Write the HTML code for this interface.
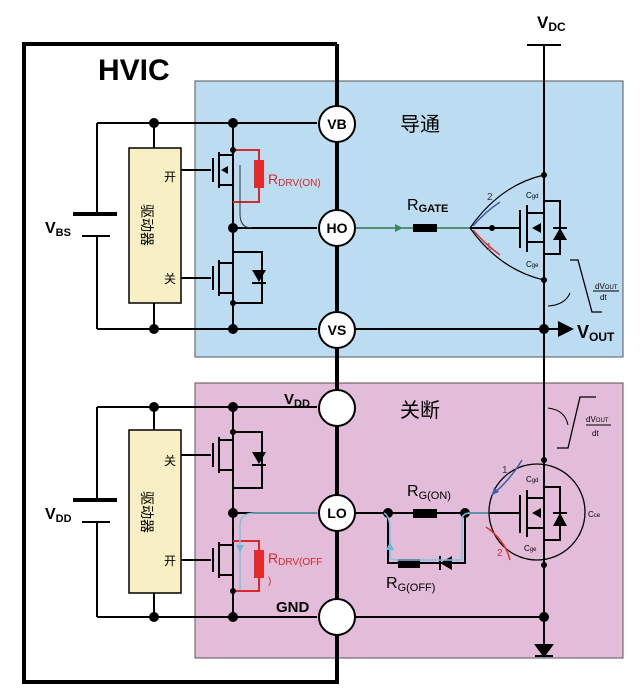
<!DOCTYPE html>
<html><head><meta charset="utf-8"><style>
html,body{margin:0;padding:0;background:#fff}
svg{display:block}
text{font-family:"Liberation Sans","Noto Sans CJK SC",sans-serif}
</style></head><body>
<svg width="642" height="693" viewBox="0 0 642 693" xmlns="http://www.w3.org/2000/svg">
<defs>
<marker id="ab" markerWidth="8" markerHeight="8" refX="6" refY="4" orient="auto"><path d="M0,0 L8,4 L0,8 z" fill="#000"/></marker>
</defs>
<rect width="642" height="693" fill="#fff"/>
<rect x="195" y="81" width="428" height="276" fill="#bcdcf2" stroke="#555" stroke-width="1"/>
<rect x="195" y="383" width="428" height="275" fill="#e3bcd9" stroke="#555" stroke-width="1"/>
<path d="M337,44 L24,44 L24,682 L337,682" fill="none" stroke="#000" stroke-width="4"/>
<line x1="337" y1="44" x2="337" y2="684" stroke="#000" stroke-width="4"/>
<text x="98" y="80" font-size="30" font-weight="bold">HVIC</text>

<g stroke="#000" stroke-width="2" fill="none">
<path d="M97,123 L317,123 M97,329 L317,329 M97,123 L97,214 M97,236 L97,329"/>
<path d="M154,123 L154,148 M154,303 L154,329"/>
<path d="M97,407 L317,407 M97,617 L317,617 M97,407 L97,500 M97,522 L97,617"/>
<path d="M154,407 L154,430 M154,593 L154,617"/>
<path d="M233,123 L233,329"/>
<path d="M233,228 L317,228"/>
<path d="M233,407 L233,617"/>
<path d="M233,513 L317,513"/>
<path d="M181,170 L211,170 M181,278 L211,278 M181,455 L211,455 M181,560 L211,560"/>
</g>
<g stroke="#000" stroke-width="4"><path d="M73,214 L117,214 M73,500 L117,500"/></g>
<g stroke="#000" stroke-width="2"><path d="M82,236 L110,236 M82,522 L110,522"/></g>
<text x="45" y="233" font-size="16" font-weight="bold">V<tspan font-size="11" dy="3">BS</tspan></text>
<text x="45" y="519" font-size="16" font-weight="bold">V<tspan font-size="11" dy="3">DD</tspan></text>

<rect x="129" y="148" width="52" height="155" fill="#f8efc4" stroke="#000" stroke-width="1.5"/>
<rect x="129" y="430" width="52" height="163" fill="#f8efc4" stroke="#000" stroke-width="1.5"/>
<g font-size="12" fill="#000">
<text x="164" y="181">开</text><text x="164" y="283">关</text>
<text x="164" y="465">关</text><text x="164" y="565">开</text>
<text x="147" y="225" font-size="14" text-anchor="middle" dominant-baseline="central" transform="rotate(90 147 225)">驱动器</text>
<text x="147" y="512" font-size="14" text-anchor="middle" dominant-baseline="central" transform="rotate(90 147 512)">驱动器</text>
</g>

<g stroke="#000" stroke-width="2" fill="none">
<path d="M213,158 L213,182 M219,152 L219,188 M219,155 L233,155 M219,185 L233,185"/>
<path d="M213,266 L213,290 M219,260 L219,296 M219,263 L233,263 M219,293 L233,293 M233,252 L262,252 L262,303 L233,303"/>
<path d="M213,443 L213,467 M219,437 L219,473 M219,440 L233,440 M219,470 L233,470 M233,432 L262,432 L262,488 L233,488"/>
<path d="M213,548 L213,572 M219,542 L219,578 M219,545 L233,545 M219,575 L233,575"/>
</g>
<g fill="#000">
<path d="M252,270 L266,270 L259,282 z"/><path d="M252,452 L266,452 L259,464 z"/>
<path d="M221,170 l7,-4 v8 z"/>
</g>
<g stroke="#000" stroke-width="2"><path d="M252,283 L266,283 M252,465 L266,465"/></g>

<g stroke="#d42a2a" stroke-width="2" fill="none">
<path d="M233,150 L259,150 L259,202 L233,202"/>
<path d="M233,541 L259,541 L259,591 L233,591"/>
</g>
<rect x="254" y="160" width="10" height="28" fill="#e52a2a"/>
<rect x="254" y="550" width="10" height="28" fill="#e52a2a"/>
<text x="268" y="184" font-size="14" fill="#d42a2a">R<tspan font-size="10" dy="2">DRV(ON)</tspan></text>
<text x="268" y="563" font-size="14" fill="#d42a2a">R<tspan font-size="10" dy="2">DRV(OFF</tspan></text>
<text x="268" y="584" font-size="10" fill="#d42a2a">)</text>
<path d="M240,165 L240,214 Q240,228 252,228" stroke="#333" stroke-width="1" fill="none"/>

<g fill="#000">
<circle cx="154" cy="123" r="5"/><circle cx="233" cy="123" r="5"/><circle cx="154" cy="329" r="5"/><circle cx="233" cy="329" r="5"/>
<circle cx="233" cy="228" r="5"/><circle cx="233" cy="150" r="3"/><circle cx="233" cy="303" r="3"/>
<circle cx="154" cy="407" r="5"/><circle cx="233" cy="407" r="5"/><circle cx="154" cy="617" r="5"/><circle cx="233" cy="617" r="5"/>
<circle cx="233" cy="513" r="5"/><circle cx="233" cy="432" r="3"/><circle cx="233" cy="591" r="3"/>
</g>

<g stroke="#000" stroke-width="2" fill="none">
<path d="M527,45 L561,45 M544,45 L544,650"/>
<path d="M355,329 L570,329" marker-end="url(#ab)"/>
<path d="M355,617 L544,617"/>
</g>
<text x="537" y="28" font-size="17" font-weight="bold">V<tspan font-size="12" dy="3">DC</tspan></text>
<text x="577" y="338" font-size="18" font-weight="bold">V<tspan font-size="12" dy="3">OUT</tspan></text>
<circle cx="544" cy="329" r="5"/><circle cx="544" cy="617" r="5"/>
<path d="M536,645 L552,645 L544,656 z M535,656 L553,656" stroke="#000" stroke-width="2" fill="#000"/>

<path d="M355,228 L470,228" stroke="#2e7a4a" stroke-width="1.5"/>
<path d="M395,224 l8,4 l-8,4 z" fill="#3a8a5a"/>
<rect x="413" y="224" width="24" height="8" fill="#000"/>
<text x="407" y="210" font-size="16">R<tspan font-size="11" dy="2" font-weight="bold">GATE</tspan></text>
<g stroke="#000" stroke-width="2" fill="none">
<path d="M470,228 L520,228 M520,210 L520,248 M527,205 L527,252 M527,213 L544,213 M527,242 L544,242 M544,201 L560,201 L560,254 L544,254"/>
<path d="M470,228 Q500,185 544,175 M470,228 Q500,270 544,280" stroke-width="1.2"/>
</g>
<path d="M532,228 l9,-5 v10 z" fill="#000"/>
<path d="M553,240 L567,240 L560,228 z" fill="#000"/><path d="M553,228 L567,228" stroke="#000" stroke-width="2"/>
<circle cx="544" cy="175" r="3"/><circle cx="544" cy="280" r="3"/><circle cx="492" cy="228" r="3"/>
<path d="M473,226 Q485,212 500,202" stroke="#3b5fb0" stroke-width="1.5" fill="none"/>
<path d="M473,230 Q485,244 500,255" stroke="#d33" stroke-width="1.5" fill="none"/>
<text x="487" y="200" font-size="10" fill="#334">2</text><text x="486" y="250" font-size="10" fill="#c33">1</text>
<text x="526" y="198" font-size="8">C<tspan font-size="6">gd</tspan></text>
<text x="526" y="267" font-size="8">C<tspan font-size="6">ge</tspan></text>
<path d="M570,260 L578,260 L592,312 L602,312" stroke="#000" stroke-width="1.3" fill="none"/>
<text x="595" y="289" font-size="8">dV<tspan font-size="6">OUT</tspan></text><line x1="593" y1="291" x2="619" y2="291" stroke="#000"/><text x="600" y="300" font-size="8">dt</text>
<path d="M570,293 Q565,305 548,306" stroke="#000" stroke-width="1" fill="none"/>

<path d="M355,513 L490,513" stroke="#000" stroke-width="2"/>
<rect x="413" y="509" width="24" height="9" fill="#000"/>
<circle cx="388" cy="513" r="5"/><circle cx="465" cy="513" r="5"/>
<path d="M388,513 L388,563 L465,563 L465,513" stroke="#000" stroke-width="2" fill="none"/>
<rect x="398" y="559" width="22" height="9" fill="#000"/>
<path d="M440,563 L452,556 L452,570 z" fill="#000"/><path d="M440,556 L440,570" stroke="#000" stroke-width="2"/>
<path d="M240,525 Q240,513 255,513 L355,513 M384,513 Q390,516 390,530 L390,558 Q392,560 400,560 L462,560 L462,520 Q462,513 470,513 L490,513" stroke="#7cc4dd" stroke-width="1.5" fill="none"/>
<path d="M240,525 L240,590" stroke="#7cc4dd" stroke-width="1.5"/>
<path d="M236,545 l4,8 l4,-8 z M386,550 l4,-8 l4,8 z" fill="#6bbad6"/>
<text x="407" y="496" font-size="16">R<tspan font-size="11" dy="3">G(ON)</tspan></text>
<text x="386" y="588" font-size="16">R<tspan font-size="11" dy="3">G(OFF)</tspan></text>
<circle cx="537" cy="512" r="48" stroke="#000" stroke-width="1.3" fill="none"/>
<g stroke="#000" stroke-width="2" fill="none">
<path d="M490,513 L520,513 M520,495 L520,533 M527,490 L527,537 M527,498 L544,498 M527,528 L544,528 M544,487 L560,487 L560,540 L544,540"/>
</g>
<path d="M532,513 l9,-5 v10 z" fill="#000"/>
<path d="M553,526 L567,526 L560,513 z" fill="#000"/><path d="M553,513 L567,513" stroke="#000" stroke-width="2"/>
<circle cx="544" cy="460" r="3"/><circle cx="544" cy="565" r="3"/>
<text x="526" y="482" font-size="8">C<tspan font-size="6">gd</tspan></text>
<text x="524" y="551" font-size="8">C<tspan font-size="6">ge</tspan></text>
<text x="588" y="517" font-size="8">C<tspan font-size="6">ce</tspan></text>
<path d="M522,460 Q510,480 492,495" stroke="#3b5fb0" stroke-width="1.5" fill="none"/>
<path d="M492,495 l2,-8 l5,5 z" fill="#3b5fb0"/>
<path d="M510,560 Q505,540 486,527" stroke="#d33" stroke-width="1.5" fill="none"/>
<text x="502" y="473" font-size="10" fill="#334">1</text><text x="497" y="556" font-size="10" fill="#c33">2</text>
<path d="M557,448 L568,448 L580,397 L596,397" stroke="#000" stroke-width="1.3" fill="none"/>
<text x="586" y="422" font-size="8">dV<tspan font-size="6">OUT</tspan></text><line x1="586" y1="425" x2="611" y2="425" stroke="#000"/><text x="592" y="436" font-size="8">dt</text>
<path d="M568,425 Q565,410 548,408" stroke="#000" stroke-width="1" fill="none"/>

<text x="400" y="131" font-size="20">导通</text>
<text x="400" y="417" font-size="20">关断</text>

<g stroke="#000" stroke-width="2" fill="#fff">
<circle cx="337" cy="124" r="18"/><circle cx="337" cy="228" r="18"/><circle cx="337" cy="330" r="18"/>
<circle cx="337" cy="408" r="18"/><circle cx="337" cy="513" r="18"/><circle cx="337" cy="617" r="18"/>
</g>
<g font-size="14" font-weight="bold" text-anchor="middle">
<text x="337" y="129">VB</text><text x="337" y="233">HO</text><text x="337" y="335">VS</text><text x="337" y="518">LO</text>
</g>
<text x="284" y="404" font-size="15" font-weight="bold">V<tspan font-size="11" dy="3">DD</tspan></text>
<text x="276" y="612" font-size="15" font-weight="bold">GND</text>
</svg>
</body></html>
